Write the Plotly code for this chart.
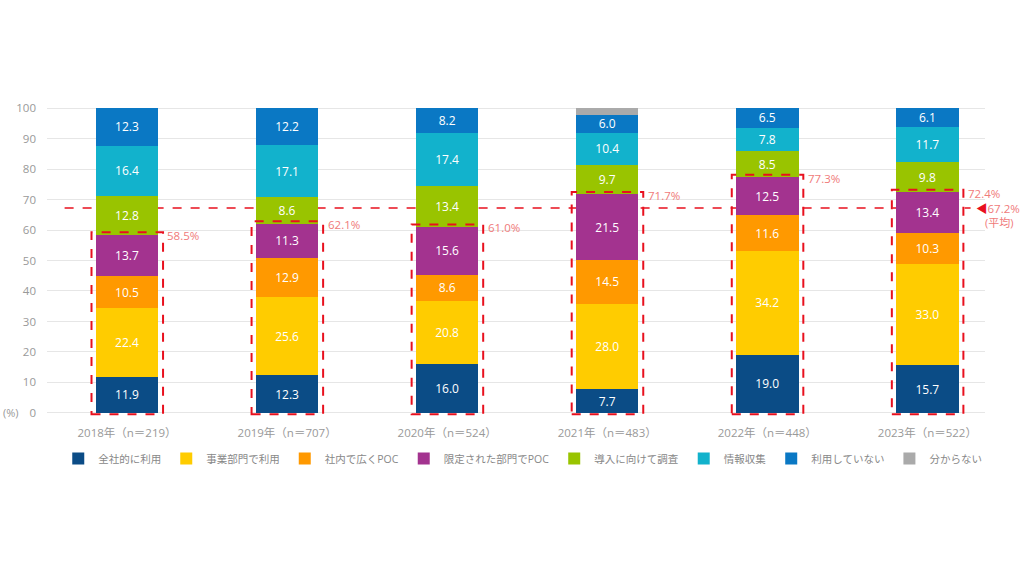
import plotly.graph_objects as go

categories = ["2018年（n＝219）", "2019年（n＝707）", "2020年（n＝524）",
              "2021年（n＝483）", "2022年（n＝448）", "2023年（n＝522）"]

series_names = ["全社的に利用", "事業部門で利用", "社内で広くPOC", "限定された部門でPOC",
                "導入に向けて調査", "情報収集", "利用していない", "分からない"]

zensha = [11.9, 12.3, 16.0, 7.7, 19.0, 15.7]
jigyo = [22.4, 25.6, 20.8, 28.0, 34.2, 33.0]
hiroku_poc = [10.5, 12.9, 8.6, 14.5, 11.6, 10.3]
gentei_poc = [13.7, 11.3, 15.6, 21.5, 12.5, 13.4]
chosa = [12.8, 8.6, 13.4, 9.7, 8.5, 9.8]
joho = [16.4, 17.1, 17.4, 10.4, 7.8, 11.7]
riyo_nashi = [12.3, 12.2, 8.2, 6.0, 6.5, 6.1]
wakaranai = [None, None, None, 2.2, None, None]

usage_totals = [58.5, 62.1, 61.0, 71.7, 77.3, 72.4]
average_total = 67.2

colors = ["#0b4c86", "#ffcc00", "#ff9900", "#a3338f", "#99c400", "#12b2cc", "#0a78c4", "#aaaaaa"]

values = [zensha, jigyo, hiroku_poc, gentei_poc, chosa, joho, riyo_nashi, wakaranai]

font_family = "Open Sans, Noto Sans CJK JP, sans-serif"
red = "#e8101e"
label_red = "#f07a7a"

fig = go.Figure()
for name, vals, col in zip(series_names, values, colors):
    show_text = name != "分からない"
    fig.add_trace(go.Bar(
        x=list(range(len(categories))), y=vals, name=name,
        marker=dict(color=col, line=dict(width=0)),
        width=0.39,
        text=[(f"{v:.1f}" if (v is not None and show_text) else "") for v in vals],
        textposition="inside", insidetextanchor="middle", textangle=0,
        textfont=dict(color="white", size=12, family=font_family),
    ))

shapes = []
annotations = []
for i, tot in enumerate(usage_totals):
    shapes.append(dict(type="rect", xref="x", yref="y",
                       x0=i - 0.222, x1=i + 0.225, y0=-0.4, y1=tot + 0.8,
                       line=dict(color=red, width=2, dash="dash"),
                       fillcolor="rgba(0,0,0,0)", layer="above"))
    annotations.append(dict(xref="x", yref="y", x=i + 0.24, y=tot - 0.3,
                            text=f"{tot:.1f}%", showarrow=False, xanchor="left",
                            yanchor="middle",
                            font=dict(color=label_red, size=11.5, family=font_family)))

shapes.append(dict(type="line", xref="x", yref="y", x0=-0.39, x1=5.27,
                   y0=average_total, y1=average_total,
                   line=dict(color=red, width=1.5, dash="dash"), layer="between"))
annotations.append(dict(xref="x", yref="y", x=5.29, y=average_total,
                        text="<span style='color:#e8101e'>◀</span>67.2%", showarrow=False,
                        xanchor="left", yanchor="middle",
                        font=dict(color=label_red, size=11.5, family=font_family)))
annotations.append(dict(xref="x", yref="y", x=5.35, y=average_total - 4.8,
                        text="(平均)", showarrow=False, xanchor="left", yanchor="middle",
                        font=dict(color=label_red, size=11, family=font_family)))
annotations.append(dict(xref="paper", yref="y", x=-0.049, y=0, text="(%)",
                        showarrow=False, xanchor="left", yanchor="middle",
                        font=dict(color="#999999", size=11, family=font_family)))

fig.update_layout(
    width=1024, height=576,
    margin=dict(l=47, r=39, t=105, b=160),
    paper_bgcolor="white", plot_bgcolor="white",
    barmode="stack",
    uniformtext=dict(minsize=12, mode="show"),
    font=dict(family=font_family, color="#999999", size=11),
    shapes=shapes, annotations=annotations,
    showlegend=True,
    legend=dict(orientation="h", x=0.012, y=-0.09, xanchor="left", yanchor="top",
                font=dict(size=10.5, color="#888888", family=font_family),
                traceorder="normal", itemwidth=30, tracegroupgap=0),
    xaxis=dict(tickmode="array", tickvals=list(range(len(categories))), ticktext=categories,
               range=[-0.5, 5.36], showgrid=False, zeroline=False, showline=False,
               ticks="", tickfont=dict(size=11.5, color="#999999"), ticklabelstandoff=8),
    yaxis=dict(range=[-1, 101], tickvals=list(range(0, 101, 10)), showgrid=True,
               gridcolor="#e6e6e6", gridwidth=1, zeroline=False, showline=False,
               ticks="", tickfont=dict(size=11.5, color="#999999"), ticklabelstandoff=10),
)

fig.write_html("out.html")
